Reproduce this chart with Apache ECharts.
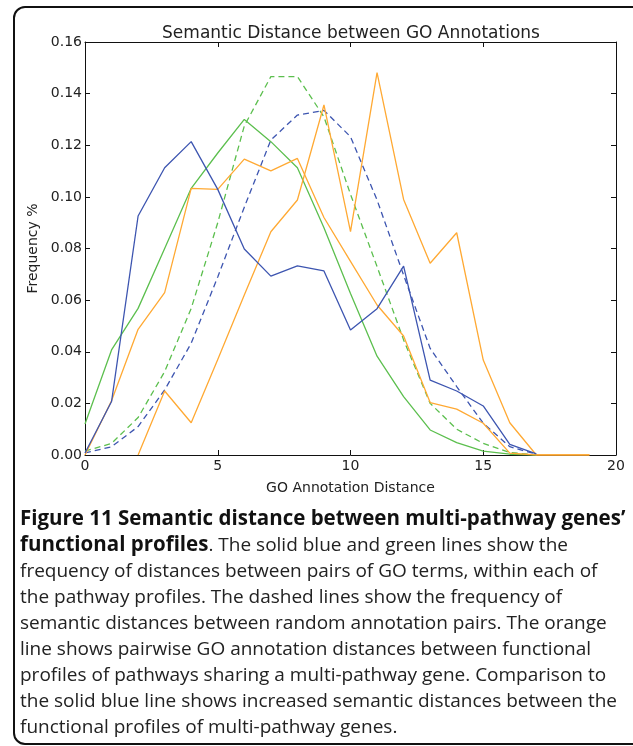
<!DOCTYPE html>
<html>
<head>
<meta charset="utf-8">
<script src="https://cdn.jsdelivr.net/npm/echarts@6/dist/echarts.min.js"></script>
<style>
html,body{margin:0;padding:0;background:#fff;}
#c{width:633px;height:746px;}
</style>
</head>
<body>
<div id="c"></div>
<script>
// GO annotation distance (x)
var distances = [0,1,2,3,4,5,6,7,8,9,10,11,12,13,14,15,16,17,18,19];
// Solid blue: within-pathway profile 1
var blueSolid = [0.0008,0.0207,0.0926,0.1113,0.1214,0.1029,0.0798,0.0693,0.0733,0.0713,0.0484,0.0567,0.0732,0.0290,0.0248,0.0190,0.0041,0.0004,null,null];
// Solid green: within-pathway profile 2
var greenSolid = [0.0120,0.0407,0.0568,0.0800,0.1033,0.1170,0.1300,0.1214,0.1113,0.0880,0.0626,0.0383,0.0226,0.0097,0.0048,0.0015,0.0003,0.0,null,null];
// Dashed blue: random annotation pairs
var blueDashed = [0.0008,0.0032,0.0110,0.0252,0.0433,0.0690,0.0960,0.1220,0.1317,0.1335,0.1233,0.0988,0.0697,0.0413,0.0265,0.0123,0.0032,0.0003,null,null];
// Dashed green: random annotation pairs
var greenDashed = [0.0015,0.0045,0.0145,0.0323,0.0568,0.0900,0.1275,0.1466,0.1466,0.1310,0.1010,0.0730,0.0446,0.0200,0.0100,0.0045,0.0010,0.0,null,null];
// Orange lines: pathways sharing a multi-pathway gene
var orangeA = [0.0,0.0210,0.0487,0.0629,0.1033,0.1029,0.1146,0.1101,0.1149,0.0920,0.0750,0.0581,0.0461,0.0203,0.0178,0.0123,0.0007,0.0,0.0,0.0];
var orangeB = [null,null,0.0,0.0248,0.0125,0.0370,0.0620,0.0865,0.0988,0.1356,0.0865,0.1481,0.0990,0.0743,0.0861,0.0368,0.0125,0.0,0.0,0.0];
var yTicks = [0,0.02,0.04,0.06,0.08,0.10,0.12,0.14,0.16];

var BLUE = '#3d55b0', GREEN = '#5cbf4e', ORANGE = '#ffa933';

function pairs(vals){
  var out = [];
  for (var i = 0; i < distances.length; i++) {
    if (vals[i] !== null && vals[i] !== undefined) out.push([distances[i], vals[i]]);
  }
  return out;
}
function line(name, vals, color, dashed){
  return {
    name: name, type: 'line', data: pairs(vals), showSymbol: false, symbol: 'none',
    xAxisIndex: 0, yAxisIndex: 0, animation: false, silent: true,
    lineStyle: {color: color, width: 1.3, type: dashed ? [6,4] : 'solid'}
  };
}

var chart = echarts.init(document.getElementById('c'), null, {renderer: 'canvas'});
var FONT = 'DejaVu Sans';
var axisCommon = {
  axisLine: {show: true, onZero: false, lineStyle: {color: '#111', width: 1}},
  axisTick: {show: true, inside: true, length: 5, lineStyle: {color: '#111', width: 1}},
  splitLine: {show: false}
};
chart.setOption({
  backgroundColor: '#fff',
  animation: false,
  title: {
    text: 'Semantic Distance between GO Annotations',
    left: 346, top: 20, textAlign: 'center',
    textStyle: {fontFamily: FONT, fontSize: 17, fontWeight: 'normal', color: '#222'}
  },
  grid: {left: 85, right: 17, top: 42, bottom: 291, containLabel: false},
  xAxis: [
    Object.assign({
      type: 'value', min: 0, max: 20, interval: 5, position: 'bottom',
      name: 'GO Annotation Distance', nameLocation: 'middle', nameGap: 26,
      nameTextStyle: {fontFamily: FONT, fontSize: 14, color: '#222'},
      axisLabel: {fontFamily: FONT, fontSize: 14, color: '#222', margin: 4}
    }, axisCommon),
    Object.assign({
      type: 'value', min: 0, max: 20, interval: 5, position: 'top',
      axisLabel: {show: false}
    }, axisCommon)
  ],
  yAxis: [
    Object.assign({
      type: 'value', min: 0, max: 0.16, interval: 0.02, position: 'left',
      name: 'Frequency %', nameLocation: 'middle', nameGap: 44, nameRotate: 90,
      nameTextStyle: {fontFamily: FONT, fontSize: 14, color: '#222'},
      axisLabel: {fontFamily: FONT, fontSize: 14, color: '#222', margin: 3,
        formatter: function(v){ return v.toFixed(2); }}
    }, axisCommon),
    Object.assign({
      type: 'value', min: 0, max: 0.16, interval: 0.02, position: 'right',
      axisLabel: {show: false}
    }, axisCommon)
  ],
  series: [
    line('Random (blue)', blueDashed, BLUE, true),
    line('Random (green)', greenDashed, GREEN, true),
    line('Pathway profile (green)', greenSolid, GREEN, false),
    line('Shared gene A', orangeA, ORANGE, false),
    line('Shared gene B', orangeB, ORANGE, false),
    line('Pathway profile (blue)', blueSolid, BLUE, false)
  ],
  graphic: [
    {
      type: 'rect', silent: true, z: 100,
      shape: {x: 14, y: 7, width: 640, height: 737, r: 11},
      style: {fill: 'none', stroke: '#111', lineWidth: 2}
    },
    {
      type: 'text', silent: true, z: 100, left: 20, top: 509,
      style: {
        text: '{b|Figure 11 Semantic distance between multi-pathway genes\u2019}\n' +
              '{b|functional profiles}{r|. The solid blue and green lines show the}\n' +
              '{r|frequency of distances between pairs of GO terms, within each of}\n' +
              '{r|the pathway profiles. The dashed lines show the frequency of}\n' +
              '{r|semantic distances between random annotation pairs. The orange}\n' +
              '{r|line shows pairwise GO annotation distances between functional}\n' +
              '{r|profiles of pathways sharing a multi-pathway gene. Comparison to}\n' +
              '{r|the solid blue line shows increased semantic distances between the}\n' +
              '{r|functional profiles of multi-pathway genes.}',
        rich: {
          b: {fontFamily: 'Open Sans', fontSize: 20.5, fontWeight: 'bold', fill: '#111', lineHeight: 26},
          r: {fontFamily: 'Open Sans', fontSize: 19, fontWeight: 'normal', fill: '#222', lineHeight: 26}
        }
      }
    }
  ]
});
</script>
</body>
</html>
